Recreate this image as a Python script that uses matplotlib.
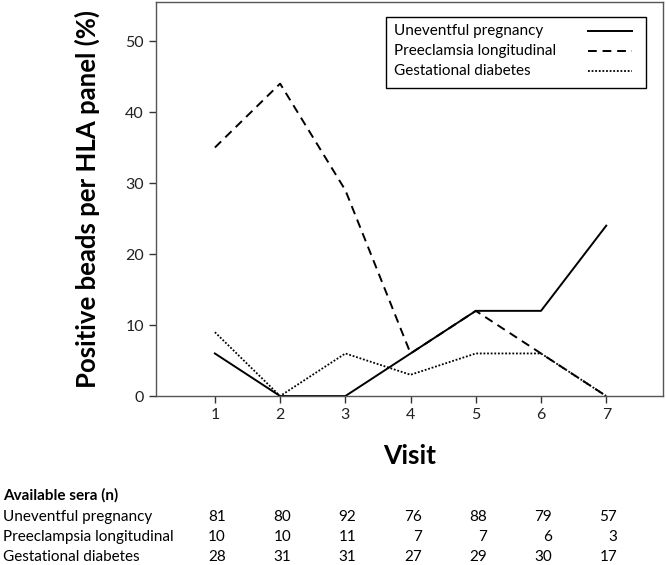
import matplotlib.pyplot as plt
from matplotlib.lines import Line2D
from matplotlib.patches import Rectangle
from matplotlib.transforms import blended_transform_factory

plt.rcParams['font.family'] = ['Lato', 'DejaVu Sans']

visits = [1, 2, 3, 4, 5, 6, 7]
uneventful = [6, 0, 0, 6, 12, 12, 24]
preeclampsia = [35, 44, 29, 6, 12, 6, 0]
gestational = [9, 0, 6, 3, 6, 6, 0]

labels = ["Uneventful pregnancy", "Preeclamsia longitudinal", "Gestational diabetes"]
row_labels = ["Uneventful pregnancy", "Preeclampsia longitudinal", "Gestational diabetes"]
sera_uneventful = [81, 80, 92, 76, 88, 79, 57]
sera_preeclampsia = [10, 10, 11, 7, 7, 6, 3]
sera_gestational = [28, 31, 31, 27, 29, 30, 17]

styles = [
    dict(color="black", linewidth=1.4, linestyle="-"),
    dict(color="black", linewidth=1.4, linestyle=(0, (4.5, 3))),
    dict(color="black", linewidth=1.3, linestyle=(0, (1, 1))),
]

fig = plt.figure(figsize=(6.66, 5.65), dpi=100)
ax = fig.add_axes([0.234, 0.299, 0.7615, 0.6975])

for series, st in zip([uneventful, preeclampsia, gestational], styles):
    ax.plot(visits, series, **st)

ax.set_xlim(0.095, 7.87)
ax.set_ylim(0, 55.5)
ax.set_xticks(visits)
ax.set_yticks([0, 10, 20, 30, 40, 50])
ax.tick_params(direction="out", length=5, width=1, colors="#333333", labelsize=11.5, labelcolor="#222222")
for s in ax.spines.values():
    s.set_color("#555555")
    s.set_linewidth(1.0)

ax.set_xlabel("Visit", fontsize=19, fontweight="bold", labelpad=16)
ax.set_ylabel("Positive beads per HLA panel (%)", fontsize=18.5, fontweight="bold", labelpad=18)

# legend drawn by hand: labels left, line samples right
ax.add_patch(Rectangle((0.454, 0.782), 0.512, 0.18, transform=ax.transAxes,
                       facecolor="white", edgecolor="black", linewidth=1.0, zorder=5))
for k, (lab, st) in enumerate(zip(labels, styles)):
    yy = 0.926 - 0.051 * k
    ax.text(0.469, yy, lab, transform=ax.transAxes, fontsize=11, va="center", zorder=6)
    ax.add_line(Line2D([0.852, 0.939], [yy, yy], transform=ax.transAxes, zorder=6, **st))

# table of available sera below the chart
trans = blended_transform_factory(ax.transData, fig.transFigure)
fig.text(0.005, 1 - 495 / 565, "Available sera (n)", fontsize=11, fontweight="bold", va="center")
rows = [sera_uneventful, sera_preeclampsia, sera_gestational]
for k, (name, vals) in enumerate(zip(row_labels, rows)):
    y = 1 - (517 + 20 * k) / 565
    fig.text(0.005, y, name, fontsize=11, va="center")
    for v, n in zip(visits, vals):
        ax.text(v + 0.17, y, str(n), transform=trans, fontsize=11, ha="right", va="center")

fig.savefig("out.png", dpi=100)
